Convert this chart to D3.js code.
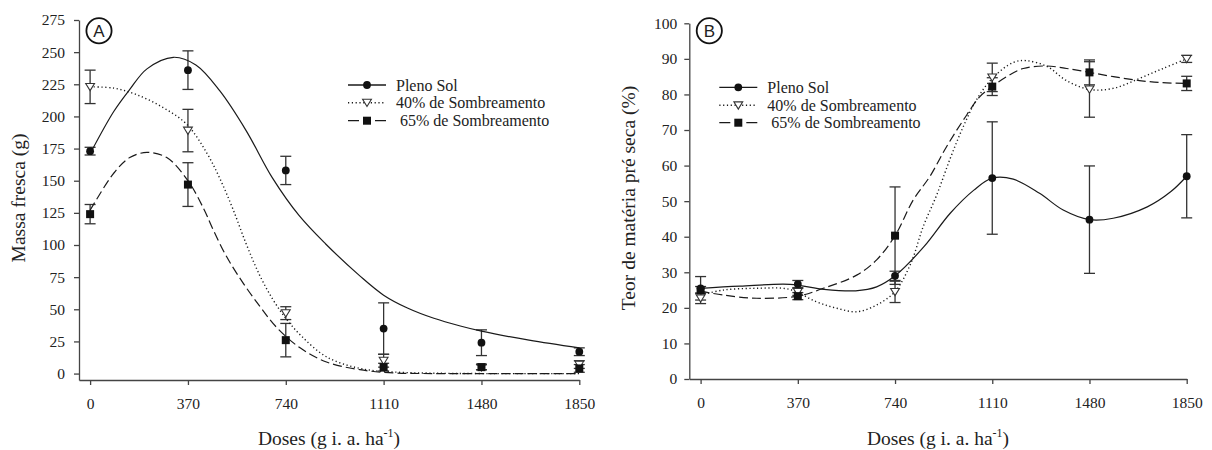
<!DOCTYPE html>
<html>
<head>
<meta charset="utf-8">
<script src="https://cdn.jsdelivr.net/npm/d3@7"></script>
<style>
    body { margin: 0; background: #fff; }
    text { font-family: "Liberation Serif", "Times New Roman", serif; fill: #222; }
</style>
</head>
<body>
<script>
// doses of herbicide (g i. a. ha-1)
const doses = [0, 370, 740, 1110, 1480, 1850]
const seriesNames = ["Pleno Sol", "40% de Sombreamento", " 65% de Sombreamento"]

// panel A - fresh mass (g), means and error bars
const yTicksA = [0, 25, 50, 75, 100, 125, 150, 175, 200, 225, 250, 275]
const plenoA = [173, 236, 158, 35, 24, 17]
const plenoAErr = [3, 15, 11, 20, 10, 3]
const sombra40A = [223, 189, 47, 10, 5, 7]
const sombra40AErr = [13, 16.5, 5, 5, 2, 3]
const sombra65A = [124, 147, 26, 5, 5, 4]
const sombra65AErr = [7.5, 17, 13, 3, 2, 3]

// panel A - fitted curves as [dose, value]
const fitPlenoA = [[0, 171], [90, 204], [150, 221], [215, 237], [315, 246], [400, 240], [490, 220], [590, 189],
    [690, 152], [790, 123], [890, 101], [1020, 76], [1110, 61], [1200, 51], [1300, 43], [1400, 37],
    [1480, 33], [1660, 26], [1850, 20]]
const fit40A = [[0, 223], [90, 222], [175, 217], [275, 207], [365, 194], [440, 172], [490, 152], [540, 128],
    [590, 101], [640, 77], [690, 58], [740, 43], [800, 29], [894, 13], [1020, 4], [1150, 1.2], [1300, 0.3],
    [1480, 0], [1850, 0]]
const fit65A = [[0, 127], [90, 156], [150, 168], [215, 172], [290, 168], [370, 150], [430, 128], [465, 112],
    [516, 91], [580, 70], [643, 52], [705, 36], [794, 20], [894, 9], [1020, 3], [1150, 0.5], [1300, 0], [1850, 0]]

// panel B - pre-dry matter content (%), means and error bars
const yTicksB = [0, 10, 20, 30, 40, 50, 60, 70, 80, 90, 100]
const plenoB = [25.5, 26.7, 29, 56.5, 44.8, 57]
const plenoBErr = [3.3, 1, 1.3, 15.8, 15.1, 11.7]
const sombra40B = [22.7, 24.5, 24.5, 84.8, 81.4, 90]
const sombra40BErr = [1.5, 1, 3, 4, 7.8, 1]
const sombra65B = [25, 23.3, 40.3, 82.2, 86.2, 83.1]
const sombra65BErr = [1, 1, 13.7, 2.5, 3.5, 2]

// panel B - fitted curves
const fitPlenoB = [[0, 25.5], [150, 26.1], [340, 26.6], [470, 25.2], [590, 24.8], [670, 25.9], [740, 29],
    [850, 37.2], [950, 46.6], [1040, 53.1], [1110, 56.5], [1190, 56.2], [1290, 52.2], [1380, 47.5],
    [1480, 44.8], [1570, 45.2], [1700, 48.4], [1790, 52.7], [1850, 57]]
const fit40B = [[0, 23.6], [86, 25], [213, 25.5], [339, 25.2], [441, 21.7], [518, 19.9], [594, 18.9],
    [670, 20.8], [740, 24.6], [800, 32.5], [847, 42.8], [900, 52], [950, 62], [1000, 71], [1050, 78.5],
    [1110, 84.5], [1190, 89], [1240, 89.5], [1320, 87.8], [1390, 84], [1480, 81.4], [1570, 81.7],
    [1670, 84.5], [1760, 87.3], [1850, 90]]
const fit65B = [[0, 24.7], [86, 23.6], [213, 22.7], [370, 23.3], [467, 25.5], [594, 29.2], [670, 33.5],
    [740, 40.3], [809, 50.3], [873, 57], [936, 65.3], [1000, 72.8], [1063, 79.4], [1110, 82.2], [1165, 85],
    [1228, 87.3], [1317, 88], [1393, 87.3], [1480, 86.2], [1571, 85], [1670, 83.9], [1759, 83.3], [1850, 83.1]]

const lineStyles = ["none", "1.2,2.6", "9,4"]
const legendDash = ["none", "1.2,2.6", "11,16"]
const markerTypes = ["circle", "triangle", "square"]

const svg = d3.select("body")
    .append("svg")
    .attr("width", 1212)
    .attr("height", 450)

drawMarker = function (sel, type) {
    if (type === "circle") {
        sel.append("circle").attr("r", 3.9).attr("fill", "#111")
    } else if (type === "square") {
        sel.append("rect").attr("x", -4).attr("y", -4).attr("width", 8).attr("height", 8).attr("fill", "#111")
    } else {
        sel.append("path").attr("d", "M-4.4,-3.4L4.4,-3.4L0,3.8Z")
           .attr("fill", "#fff").attr("stroke", "#333").attr("stroke-width", 1.1)
    }
}

drawPanel = function (p) {
    let x = d3.scaleLinear().domain(p.xDomain).range(p.xRange)
    let y = d3.scaleLinear().domain(p.yDomain).range(p.yRange)
    let g = svg.append("g")

    // axes
    g.append("g")
     .attr("transform", "translate(" + p.xRange[0] + ",0)")
     .call(d3.axisLeft(y).tickValues(p.yTicks).tickFormat(d3.format("d"))
             .tickSize(5).tickSizeOuter(0).tickPadding(p.yPad))
    g.append("g")
     .attr("transform", "translate(0," + p.yRange[0] + ")")
     .call(d3.axisBottom(x).tickValues(doses).tickFormat(d3.format("d"))
             .tickSize(5).tickSizeOuter(0).tickPadding(13))
    g.selectAll(".domain, .tick line").attr("stroke", "#444").attr("stroke-width", 1.3)
    g.selectAll(".tick text").attr("font-size", 15.5).attr("fill", "#222")

    // axis titles
    g.append("text")
     .attr("transform", "translate(" + p.yTitleX + "," + p.yTitleY + ") rotate(-90)")
     .attr("text-anchor", "middle")
     .attr("font-size", 19.5)
     .text(p.yTitle)

    let xt = g.append("text")
        .attr("x", p.xTitleX)
        .attr("y", 445)
        .attr("text-anchor", "middle")
        .attr("font-size", 19.5)
    xt.append("tspan").text("Doses (g i. a. ha")
    xt.append("tspan").attr("font-size", 12).attr("dy", -8).text("-1")
    xt.append("tspan").attr("dy", 8).text(")")

    // panel letter
    g.append("circle")
     .attr("cx", p.xRange[0] + 20).attr("cy", 30.7).attr("r", 12.6)
     .attr("fill", "none").attr("stroke", "#111").attr("stroke-width", 1.8)
    g.append("text")
     .attr("x", p.xRange[0] + 20).attr("y", 36.8)
     .attr("text-anchor", "middle")
     .style("font-family", "Liberation Sans, Arial, sans-serif")
     .attr("font-size", 17)
     .text(p.letter)

    // error bars
    p.series.forEach(function (s) {
        let eb = g.append("g")
            .selectAll("g")
            .data(doses)
            .enter()
            .append("g")
            .attr("stroke", "#333")
            .attr("stroke-width", 1.3)
        eb.append("line")
          .attr("x1", d => x(d)).attr("x2", d => x(d))
          .attr("y1", (d, i) => y(s.values[i] - s.err[i]))
          .attr("y2", (d, i) => y(s.values[i] + s.err[i]))
        eb.append("line")
          .attr("x1", d => x(d) - 5.5).attr("x2", d => x(d) + 5.5)
          .attr("y1", (d, i) => y(s.values[i] + s.err[i]))
          .attr("y2", (d, i) => y(s.values[i] + s.err[i]))
        eb.append("line")
          .attr("x1", d => x(d) - 5.5).attr("x2", d => x(d) + 5.5)
          .attr("y1", (d, i) => y(s.values[i] - s.err[i]))
          .attr("y2", (d, i) => y(s.values[i] - s.err[i]))
    })

    // fitted curves
    let line = d3.line()
        .x(d => x(d[0]))
        .y(d => y(d[1]))
        .curve(d3.curveCatmullRom.alpha(0.5))
    p.series.forEach(function (s, k) {
        g.append("path")
         .attr("d", line(s.fit))
         .attr("fill", "none")
         .attr("stroke", "#1a1a1a")
         .attr("stroke-width", k === 1 ? 1.4 : 1.2)
         .attr("stroke-dasharray", lineStyles[k])
    })

    // markers
    p.series.forEach(function (s, k) {
        g.append("g")
         .selectAll("g")
         .data(doses)
         .enter()
         .append("g")
         .attr("transform", (d, i) => "translate(" + x(d) + "," + y(s.values[i]) + ")")
         .each(function () { drawMarker(d3.select(this), markerTypes[k]) })
    })

    // legend
    let lg = g.append("g")
        .selectAll("g")
        .data(seriesNames)
        .enter()
        .append("g")
        .attr("transform", (d, i) => "translate(" + p.legendX + "," + p.legendY[i] + ")")
    lg.append("line")
      .attr("x1", 0).attr("x2", 38)
      .attr("stroke", "#1a1a1a").attr("stroke-width", (d, i) => i === 1 ? 1.4 : 1.3)
      .attr("stroke-dasharray", (d, i) => legendDash[i])
    lg.append("g")
      .attr("transform", "translate(19,0)")
      .each(function (d, i) { drawMarker(d3.select(this), markerTypes[i]) })
    lg.append("text")
      .attr("x", 48)
      .attr("y", 5.7)
      .attr("font-size", 16)
      .style("white-space", "pre")
      .text(d => d)
}

drawPanel({
    letter: "A",
    xDomain: [-42, 1850], xRange: [79, 579.3],
    yDomain: [-5, 275], yRange: [380, 20],
    yTicks: yTicksA, yPad: 9,
    yTitle: "Massa fresca (g)", yTitleX: 25, yTitleY: 198,
    xTitleX: 329,
    legendX: 348, legendY: [85, 102.7, 120.7],
    series: [
        {values: plenoA, err: plenoAErr, fit: fitPlenoA},
        {values: sombra40A, err: sombra40AErr, fit: fit40A},
        {values: sombra65A, err: sombra65AErr, fit: fit65A}
    ]
})

drawPanel({
    letter: "B",
    xDomain: [-43, 1850], xRange: [689.3, 1186.7],
    yDomain: [0, 100], yRange: [379, 23.3],
    yTicks: yTicksB, yPad: 7,
    yTitle: "Teor de matéria pré seca (%)", yTitleX: 635, yTitleY: 198,
    xTitleX: 938,
    legendX: 719.3, legendY: [87.3, 105.3, 122.7],
    series: [
        {values: plenoB, err: plenoBErr, fit: fitPlenoB},
        {values: sombra40B, err: sombra40BErr, fit: fit40B},
        {values: sombra65B, err: sombra65BErr, fit: fit65B}
    ]
})
</script>
</body>
</html>
